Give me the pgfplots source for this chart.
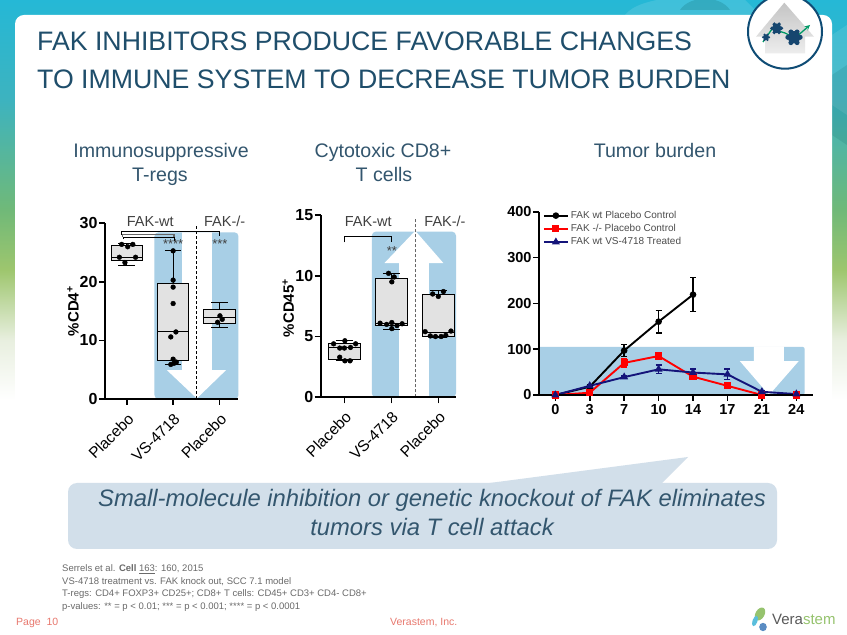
\documentclass[border=0pt]{standalone}
\usepackage{fontspec}
\setmainfont{Liberation Sans}
\usepackage{pgfplots}
\pgfplotsset{compat=1.18}
\usepgfplotslibrary{statistics}
\newcommand\fs[1]{\fontsize{#1}{#1}\selectfont}
\definecolor{titleblue}{HTML}{1F4E6B}
\definecolor{subblue}{HTML}{33566E}
\definecolor{panelblue}{HTML}{A8CFE6}
\definecolor{calloutblue}{HTML}{D2DFEA}
\definecolor{boxgrey}{HTML}{E2E2E2}
\definecolor{navyline}{HTML}{14147A}
\definecolor{footgrey}{HTML}{6A6A6A}
\definecolor{salmon}{HTML}{E8786E}
\definecolor{bga}{RGB}{37,184,214}
\definecolor{bgb}{RGB}{61,179,191}
\definecolor{bgc}{RGB}{112,185,120}
\definecolor{bgd}{RGB}{158,198,110}
\definecolor{bge}{RGB}{232,239,223}
\definecolor{ringblue}{RGB}{15,76,117}
\definecolor{flower}{RGB}{22,70,111}
\definecolor{leafgreen}{RGB}{150,195,110}
\definecolor{leafblue}{RGB}{90,190,220}
\definecolor{leafdark}{RGB}{90,140,195}
\pgfplotsset{
  slide/.style={
    scale only axis, axis on top, clip=false,
    axis lines=left,
    axis line style={-, line width=1.8pt},
    tick style={black, line width=1.6pt},
    major tick length=6pt, tick align=outside,
    xtick pos=bottom, ytick pos=left,
    /pgf/number format/assume math mode=true,
    ticklabel style={font=\bfseries\fs{14.5}},
    yticklabel style={xshift=2pt},
  },
  box/.style={
    slide, xtick={0,1,2},
    xticklabels={Placebo,VS-4718,Placebo},
    ticklabel style={font=\bfseries\fs{16}},
    xticklabel style={rotate=45, anchor=north east, font=\fs{15.5}, inner sep=2pt, xshift=-3pt, yshift=-3pt},
    ylabel style={at={(axis description cs:-0.24,0.5)}, anchor=center, font=\bfseries\fs{15}},
    boxplot/draw direction=y,
    boxplot/box extend=0.67,
    boxplot/whisker extend=0.36,
  },
  bx/.style={black, line width=0.9pt, fill=boxgrey, forget plot},
  pts/.style={only marks, mark=*, mark size=2.4pt, black, forget plot},
  patch/.style={fill=panelblue, draw=none, forget plot},
  hole/.style={fill=white, draw=none, forget plot},
}
\begin{document}
\begin{tikzpicture}[x=1pt,y=1pt]
\useasboundingbox (0,0) rectangle (847,635);
% slide background
\fill[white] (0,0) rectangle (847,235);
\shade[top color=bge, bottom color=white] (0,235) rectangle (847,295);
\shade[top color=bgd, bottom color=bge] (0,295) rectangle (847,365);
\shade[top color=bgc, bottom color=bgd] (0,365) rectangle (847,425);
\shade[top color=bgb, bottom color=bgc] (0,425) rectangle (847,535);
\shade[top color=bga, bottom color=bgb] (0,535) rectangle (847,635);
\fill[white, opacity=0.12] (625,620) .. controls (640,640) and (700,640) .. (740,640) -- (760,620) -- cycle;
\fill[black!40!teal, opacity=0.18] (680,625) .. controls (690,640) and (720,640) .. (730,625) -- cycle;
\fill[white, opacity=0.1] (832,600) -- (847,610) -- (847,520) -- (832,530) -- cycle;
\fill[black!40!teal, opacity=0.12] (832,560) -- (847,570) -- (847,490) -- (832,500) -- cycle;
\fill[white, rounded corners=9pt] (15,-20) rectangle (832,620);
% header
\node[anchor=base west, inner sep=0, text=titleblue, font=\fs{26.7}] at (37,{635-50.7}) {FAK INHIBITORS PRODUCE FAVORABLE CHANGES};
\node[anchor=base west, inner sep=0, text=titleblue, font=\fs{26.7}] at (37,{635-88.3}) {TO IMMUNE SYSTEM TO DECREASE TUMOR BURDEN};
% logo
\fill[white] (785,603.3) circle (37);
\shade[top color=black!23, bottom color=black!7] (784.3,632.3) -- (814,598.3) -- (805,598.3) -- (805,581.7) -- (765,581.7) -- (765,598.3) -- (756,598.3) -- cycle;
\draw[line width=2pt, ringblue] (785,603.3) circle (37);
\draw[line width=1.3pt, teal!80!green, -stealth] (763,593) -- (772,606) -- (785,602) -- (795,597) -- (810,610);
\foreach \cx/\cy/\r in {776.7/606.7/4.8, 794/597.7/6.2, 766/597.7/3}{
  \fill[flower] (\cx,\cy) circle (\r);
  \foreach \a in {0,60,...,300}{\fill[flower] (\cx,\cy) ++(\a:\r) circle ({0.4*\r});}
}
% column headings
\node[text=subblue, font=\fs{19.6}, inner sep=0, anchor=base] at (161,{635-157.5}) {Immunosuppressive};
\node[text=subblue, font=\fs{19.6}, inner sep=0, anchor=base] at (160,{635-182}) {T-regs};
\node[text=subblue, font=\fs{19.6}, inner sep=0, anchor=base] at (383,{635-157.5}) {Cytotoxic CD8+};
\node[text=subblue, font=\fs{19.6}, inner sep=0, anchor=base] at (384,{635-182}) {T cells};
\node[text=subblue, font=\fs{19.6}, inner sep=0, anchor=base] at (655,{635-157.5}) {Tumor burden};
\node[text=black!75, font=\fs{14.5}, inner sep=0, anchor=base] at (150.3,{635-226.5}) {FAK-wt};
\node[text=black!75, font=\fs{14.5}, inner sep=0, anchor=base] at (224.7,{635-226.5}) {FAK-/-};
\node[text=black!75, font=\fs{14.5}, inner sep=0, anchor=base] at (368.3,{635-226.5}) {FAK-wt};
\node[text=black!75, font=\fs{14.5}, inner sep=0, anchor=base] at (445,{635-226.5}) {FAK-/-};

% T-regs panel
\begin{axis}[box, at={(105pt,236pt)}, anchor=south west, width=133pt, height=175.7pt,
    xmin=-0.47, xmax=2.40, ymin=0, ymax=30, ytick={0,10,20,30}, ylabel={\%CD4\textsuperscript{+}}]
  \addplot[patch, rounded corners=4pt] coordinates {(0.597,0) (2.41,0) (2.41,28.46) (0.597,28.46)} --cycle;
  \addplot[hole] coordinates {(1.194,28.46) (1.835,28.46) (1.835,4.95) (2.144,4.95) (1.511,0.1) (0.863,4.95) (1.194,4.95)} --cycle;
  \addplot[black, densely dashed, line width=0.7pt, forget plot] coordinates {(1.511,0) (1.511,29.7)};
  \addplot[bx, boxplot prepared={draw position=0, lower whisker=22.8, lower quartile=23.6, median=24.2, upper quartile=26.3, upper whisker=26.5}] coordinates {};
  \addplot[bx, boxplot prepared={draw position=1, lower whisker=5.9, lower quartile=6.55, median=11.45, upper quartile=19.75, upper whisker=25.3}] coordinates {};
  \addplot[bx, boxplot prepared={draw position=2, lower whisker=12.3, lower quartile=12.9, median=13.95, upper quartile=15.3, upper whisker=16.55}] coordinates {};
  \addplot[pts] coordinates {(-0.11,26.4) (0.02,26.0) (0.13,26.4) (-0.16,24.2) (0.19,24.2) (-0.04,23.3)};
  \addplot[pts] coordinates {(1,25.3) (1,20.3) (1,19.1) (1,16.3) (0.95,10.6) (1.06,11.45) (1,6.8) (1.07,6.3) (1.02,6.1) (0.95,5.9)
    (1.96,13.1) (2.01,14.2) (2.06,13.6)};
  \addplot[black, line width=0.9pt, forget plot] coordinates {(-0.12,28.0) (-0.12,28.6) (2.01,28.6) (2.01,27.9)};
  \addplot[black!60, line width=1.2pt, forget plot] coordinates {(-0.09,27.6) (-0.09,28.1) (1.02,28.1) (1.02,27.6)};
  \addplot[black, line width=0.8pt, forget plot] coordinates {(-0.07,27.3) (-0.07,27.55) (1.02,27.55) (1.02,27.0)};
  \node[text=black!75, font=\fs{13}, inner sep=0] at (axis cs:1,26.4) {****};
  \node[text=black!75, font=\fs{13}, inner sep=0] at (axis cs:2.01,26.4) {***};
\end{axis}

% CD8 panel
\begin{axis}[box, at={(320.7pt,237.7pt)}, anchor=south west, width=135.3pt, height=182.3pt,
    xmin=-0.505, xmax=2.377, ymin=0, ymax=15, ytick={0,5,10,15}, ylabel={\%CD45\textsuperscript{+}},
    ylabel style={at={(axis description cs:-0.24,0.49)}}]
  \addplot[patch, rounded corners=4pt] coordinates {(0.584,0) (2.377,0) (2.377,13.63) (0.584,13.63)} --cycle;
  \addplot[hole] coordinates {(1.167,0) (1.80,0) (1.80,11.05) (2.107,11.05) (1.509,13.7) (0.854,11.05) (1.167,11.05)} --cycle;
  \addplot[black!60, densely dashed, line width=1pt, forget plot] coordinates {(1.509,0) (1.509,14.7)};
  \addplot[bx, boxplot prepared={draw position=0, lower whisker=3.0, lower quartile=3.15, median=4.1, upper quartile=4.4, upper whisker=4.7}] coordinates {};
  \addplot[bx, boxplot prepared={draw position=1, lower whisker=5.6, lower quartile=5.9, median=6.1, upper quartile=9.75, upper whisker=10.2}] coordinates {};
  \addplot[bx, boxplot prepared={draw position=2, lower whisker=4.95, lower quartile=4.97, median=5.3, upper quartile=8.45, upper whisker=8.8}] coordinates {};
  \addplot[pts] coordinates {(-0.23,4.4) (0.01,4.65) (0.24,4.4) (-0.1,4.05) (0,4.05) (0.13,4.1) (-0.1,3.3) (0.01,3.0) (0.12,3.0)};
  \addplot[pts] coordinates {(0.94,10.2) (1.06,9.9) (1.01,9.5) (0.76,6.1) (0.9,6) (1.01,6.15) (1.01,5.65) (1.12,5.9) (1.23,6.05)};
  \addplot[pts] coordinates {(1.88,8.5) (2,8.3) (2.11,8.7) (1.72,5.4) (2.27,5.45) (1.83,5.05) (1.94,5) (2.06,5) (2.16,5.1)};
  \addplot[black, line width=0.9pt, forget plot] coordinates {(0,12.75) (0,13.2) (1,13.2) (1,12.75)};
  \node[text=black!75, font=\fs{13}, inner sep=0] at (axis cs:1.01,12.0) {**};
\end{axis}

% tumor burden panel
\begin{axis}[slide, at={(539pt,240pt)}, anchor=south west, width=274pt, height=183.3pt,
    xmin=-0.474, xmax=7.485, ymin=0, ymax=400, ytick={0,100,200,300,400},
    xtick={0,...,7}, xticklabels={0,3,7,10,14,17,21,24},
    legend cell align=left,
    legend style={at={(rel axis cs:0.01,1.02)}, anchor=north west, draw=none, fill=none,
      font=\fs{10}, text=black!70, row sep=0.5pt, inner sep=1pt},
    legend image code/.code={\draw[mark repeat=2,mark phase=2,#1] plot coordinates {(0pt,0pt) (12pt,0pt) (24pt,0pt)};},
    error bars/error bar style={line width=1.5pt},
    error bars/error mark options={rotate=90, mark size=3pt, line width=1.5pt}]
  \addplot[patch, rounded corners=2pt] coordinates {(-0.49,0) (7.24,0) (7.24,105) (-0.49,105)} --cycle;
  \addplot[hole] coordinates {(5.77,106) (6.64,106) (6.64,74) (7.07,74) (6.21,0) (5.36,74) (5.77,74)} --cycle;
  \addplot[black, line width=1.9pt, mark=*, mark size=2.3pt, error bars/.cd, y dir=both, y explicit]
    coordinates {(0,0) +- (0,0) (1,18) +- (0,3) (2,97) +- (0,13) (3,160) +- (0,24.7) (4,219) +- (0,37)};
  \addplot[red, line width=1.9pt, mark=square*, mark size=2.6pt, error bars/.cd, y dir=both, y explicit]
    coordinates {(0,0) +- (0,0) (1,5) +- (0,3) (2,70) +- (0,9) (3,85) +- (0,8) (4,40) +- (0,5) (5,20) +- (0,4) (6,0) +- (0,0) (7,0) +- (0,0)};
  \addplot[navyline, line width=1.9pt, mark=triangle*, mark size=2.8pt, error bars/.cd, y dir=both, y explicit]
    coordinates {(0,0) +- (0,0) (1,20) +- (0,3) (2,39) +- (0,3) (3,56) +- (0,9) (4,49) +- (0,8) (5,45) +- (0,11.5) (6,7) +- (0,3) (7,2) +- (0,1)};
  \legend{FAK wt Placebo Control, FAK -/- Placebo Control, FAK wt VS-4718 Treated}
\end{axis}

% callout
\fill[calloutblue, rounded corners=9pt] (68,{635-549}) rectangle (777,{635-483});
\fill[calloutblue] (482,{635-484}) -- (688,{635-457}) -- (661,{635-484}) -- cycle;
\node[text=subblue, font=\itshape\fs{23.8}, inner sep=0, anchor=base] at (432,{635-507}) {Small-molecule inhibition or genetic knockout of FAK eliminates};
\node[text=subblue, font=\itshape\fs{23.8}, inner sep=0, anchor=base] at (432,{635-536}) {tumors via T cell attack};
% references
\node[text=footgrey, font=\fs{9.5}, inner sep=0, anchor=base west] at (62,{635-572}) {Serrels et al. \textbf{Cell} \underline{163}: 160, 2015};
\node[text=footgrey, font=\fs{9.5}, inner sep=0, anchor=base west] at (62,{635-585}) {VS-4718 treatment vs. FAK knock out, SCC 7.1 model};
\node[text=footgrey, font=\fs{9.5}, inner sep=0, anchor=base west] at (62,{635-597}) {T-regs: CD4+ FOXP3+ CD25+; CD8+ T cells: CD45+ CD3+ CD4- CD8+};
\node[text=footgrey, font=\fs{9.5}, inner sep=0, anchor=base west] at (62,{635-609.5}) {p-values: ** = p < 0.01; *** = p < 0.001; **** = p < 0.0001};
\node[text=salmon, font=\fs{10.5}, inner sep=0, anchor=base west] at (16,{635-626}) {Page\ \ 10};
\node[text=salmon, font=\fs{10.5}, inner sep=0, anchor=base west] at (390,{635-626}) {Verastem, Inc.};
% Verastem logo
\fill[leafgreen, rotate around={60:(760,21)}] (760,21) ellipse (7 and 4.5);
\fill[leafblue, rotate around={70:(755,14)}] (755,14) ellipse (5.5 and 2.5);
\fill[leafdark] (763,8) ellipse (3.8 and 4.2);
\node[font=\fs{15}, inner sep=0, anchor=base west] at (772,{635-625}) {\textcolor{black!65}{Vera}\textcolor{leafgreen}{stem}};
\end{tikzpicture}
\end{document}
